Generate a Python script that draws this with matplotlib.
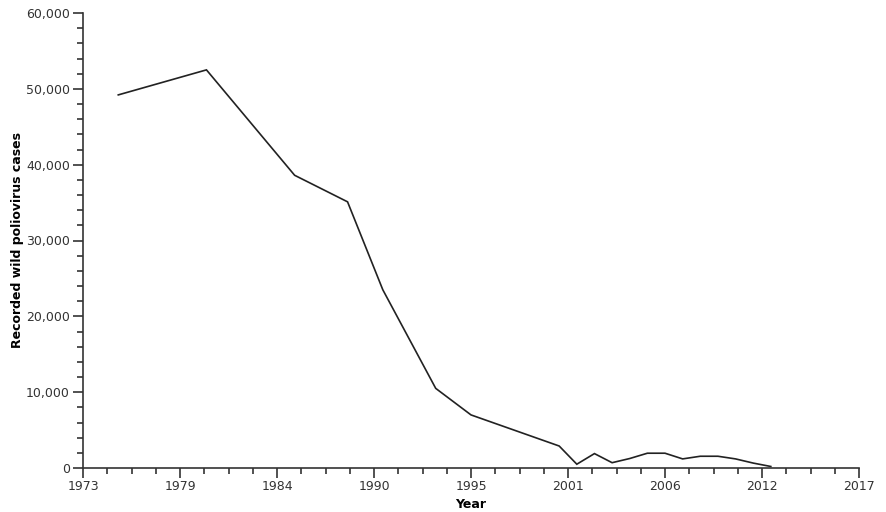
import numpy as np
import matplotlib
matplotlib.use('Agg')
import matplotlib.pyplot as plt
from matplotlib.ticker import FixedLocator, MultipleLocator, FuncFormatter

#data
years=[1975,1980,1985,1988,1990,1993,1995,2000,2001,2002,2003,2004,2005,2006,2007,2008,2009,2010,2011,2012]
cases=[49200,52500,38600,35100,23500,10500,7000,2900,500,1900,700,1250,1950,1950,1200,1550,1550,1200,650,200]

x_ticks=[1973,1978.5,1984,1989.5,1995,2000.5,2006,2011.5,2017]
x_tick_labels=['1973','1979','1984','1990','1995','2001','2006','2012','2017']

fig=plt.figure(figsize=(8.86,5.12),dpi=100)
ax=fig.add_axes([83/886,44/512,776/886,455/512])

ax.plot(years,cases,color='#222222',linewidth=1.2,solid_joinstyle='miter')

ax.set_xlim(1973,2017)
ax.set_ylim(0,60000)

ax.xaxis.set_major_locator(FixedLocator(x_ticks))
ax.set_xticklabels(x_tick_labels)
#4 minor steps between labelled ticks
ax.xaxis.set_minor_locator(FixedLocator(np.arange(1973,2017.01,1.375)))
ax.yaxis.set_major_locator(MultipleLocator(10000))
ax.yaxis.set_minor_locator(MultipleLocator(2000))
ax.yaxis.set_major_formatter(FuncFormatter(lambda v,p: f'{int(v):,}'))

for s in ['top','right']:
    ax.spines[s].set_visible(False)
for s in ['left','bottom']:
    ax.spines[s].set_color('#333333')
    ax.spines[s].set_linewidth(1.2)

ax.tick_params(which='major',length=7.5,width=1.2,color='#333333',labelsize=9,labelcolor='#333333')
ax.tick_params(which='minor',length=4,width=1.2,color='#333333')
ax.tick_params(axis='y',which='major',pad=2)
ax.tick_params(axis='x',which='major',pad=1.5)

ax.set_xlabel('Year',fontsize=9,fontweight='bold',labelpad=3.5)
ax.set_ylabel('Recorded wild poliovirus cases',fontsize=9,fontweight='bold',labelpad=1)

fig.savefig('out.png',dpi=100)
